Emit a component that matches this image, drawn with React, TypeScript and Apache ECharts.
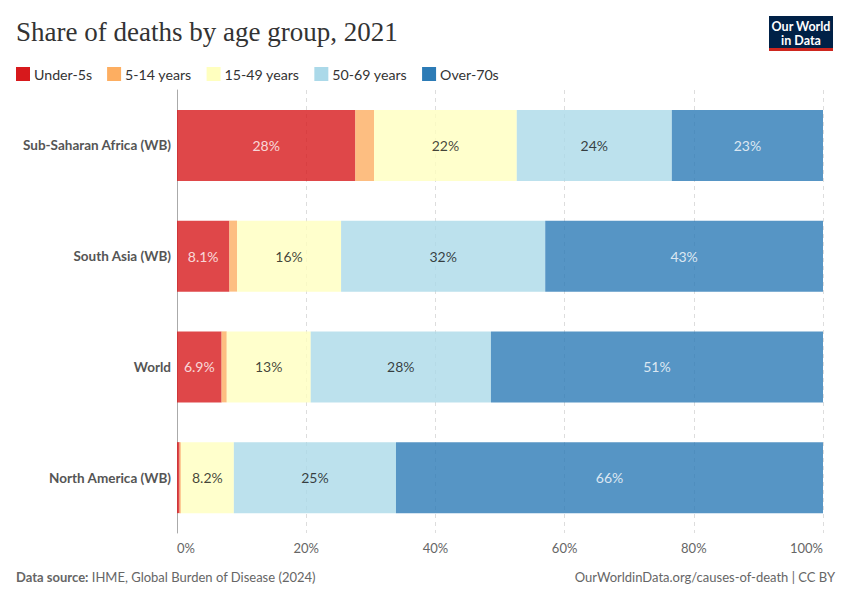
import React, { useEffect, useRef } from "react";
import * as echarts from "echarts";

const categories = ["Sub-Saharan Africa (WB)", "South Asia (WB)", "World", "North America (WB)"];
const seriesNames = ["Under-5s", "5-14 years", "15-49 years", "50-69 years", "Over-70s"];
const under5 = [27.6, 8.1, 6.9, 0.4];
const age5to14 = [2.9, 1.2, 0.8, 0.2];
const age15to49 = [22.1, 16.1, 13.0, 8.2];
const age50to69 = [24.0, 31.6, 27.9, 25.1];
const over70 = [23.4, 43.0, 51.4, 66.1];
const xTicks = ["0%", "20%", "40%", "60%", "80%", "100%"];

const baseColors = ["#d7191c", "#fdae61", "#ffffbf", "#abd9e9", "#2c7bb6"];
const labelColors = ["#ffffff", "#111111", "#111111", "#111111", "#ffffff"];

export default function App() {
  const ref = useRef<HTMLDivElement>(null);
  useEffect(() => {
    if (!ref.current) return;
    const chart = echarts.init(ref.current, undefined, { renderer: "svg" });
    const values = [under5, age5to14, age15to49, age50to69, over70];
    const fmt = (v: number) => (v < 10 ? v.toFixed(1) : Math.round(v).toString()) + "%";
    chart.setOption({
      animation: false,
      textStyle: { fontFamily: "Lato" },
      title: {
        text: "Share of deaths by age group, 2021",
        left: 11,
        top: 13,
        textStyle: { fontFamily: "Liberation Serif", fontSize: 27, fontWeight: "normal", color: "#333" },
      },
      legend: {
        left: 16,
        top: 67,
        padding: 0,
        icon: "rect",
        itemWidth: 14,
        itemHeight: 14,
        itemGap: 15,
        textStyle: { fontFamily: "Lato", fontSize: 14.2, color: "#333", padding: [0, 0, 0, -1] },
        data: seriesNames.map((n, i) => ({ name: n, itemStyle: { color: baseColors[i], opacity: 1 } })),
      },
      grid: { left: 177, right: 27, top: 90, bottom: 67, containLabel: false },
      xAxis: {
        type: "value",
        min: 0,
        max: 100,
        interval: 20,
        axisLine: { show: false },
        axisTick: { show: false },
        splitLine: { show: true, lineStyle: { type: [4, 4], color: "#dddddd" } },
        axisLabel: {
          formatter: (v: number) => xTicks[Math.round(v / 20)],
          color: "#666",
          fontSize: 13,
          fontFamily: "Lato",
          margin: 8,
          alignMinLabel: "left",
          alignMaxLabel: "right",
        },
      },
      yAxis: {
        type: "category",
        data: categories,
        inverse: true,
        axisLine: { show: true, lineStyle: { color: "#aaaaaa" } },
        axisTick: { show: false },
        axisLabel: { color: "#555", fontSize: 13.5, fontWeight: "bold", fontFamily: "Lato", margin: 6 },
      },
      series: seriesNames.map((name, i) => ({
        name,
        type: "bar",
        stack: "total",
        barWidth: 71,
        data: values[i],
        itemStyle: { color: baseColors[i], opacity: 0.8 },
        label: {
          show: true,
          position: "inside",
          color: labelColors[i],
          textBorderWidth: 0,
          fontSize: 14,
          fontFamily: "Lato",
          formatter: (p: any) => (p.value >= 5 ? fmt(p.value) : ""),
        },
      })),
      graphic: [
        { type: "rect", shape: { x: 769, y: 16, width: 64, height: 35 }, style: { fill: "#002147" } },
        { type: "rect", shape: { x: 769, y: 48, width: 64, height: 3 }, style: { fill: "#ce261e" } },
        {
          type: "text",
          x: 801,
          y: 19,
          style: {
            text: "Our World\nin Data",
            fill: "#fff",
            font: "bold 12.5px Lato",
            align: "center",
            lineHeight: 14,
          },
        },
        {
          type: "text",
          x: 16,
          y: 570,
          style: {
            rich: {
              b: { fontFamily: "Lato", fontWeight: "bold", fontSize: 13, fill: "#666" },
              r: { fontFamily: "Lato", fontSize: 13, fill: "#666" },
            },
            text: "{b|Data source:} {r|IHME, Global Burden of Disease (2024)}",
          },
        },
        {
          type: "text",
          x: 835,
          y: 570,
          style: {
            text: "OurWorldinData.org/causes-of-death | CC BY",
            font: "13px Lato",
            fill: "#666",
            align: "right",
          },
        },
      ],
    });
    return () => chart.dispose();
  }, []);
  return <div ref={ref} style={{ width: 850, height: 600, margin: -8 }} />;
}
